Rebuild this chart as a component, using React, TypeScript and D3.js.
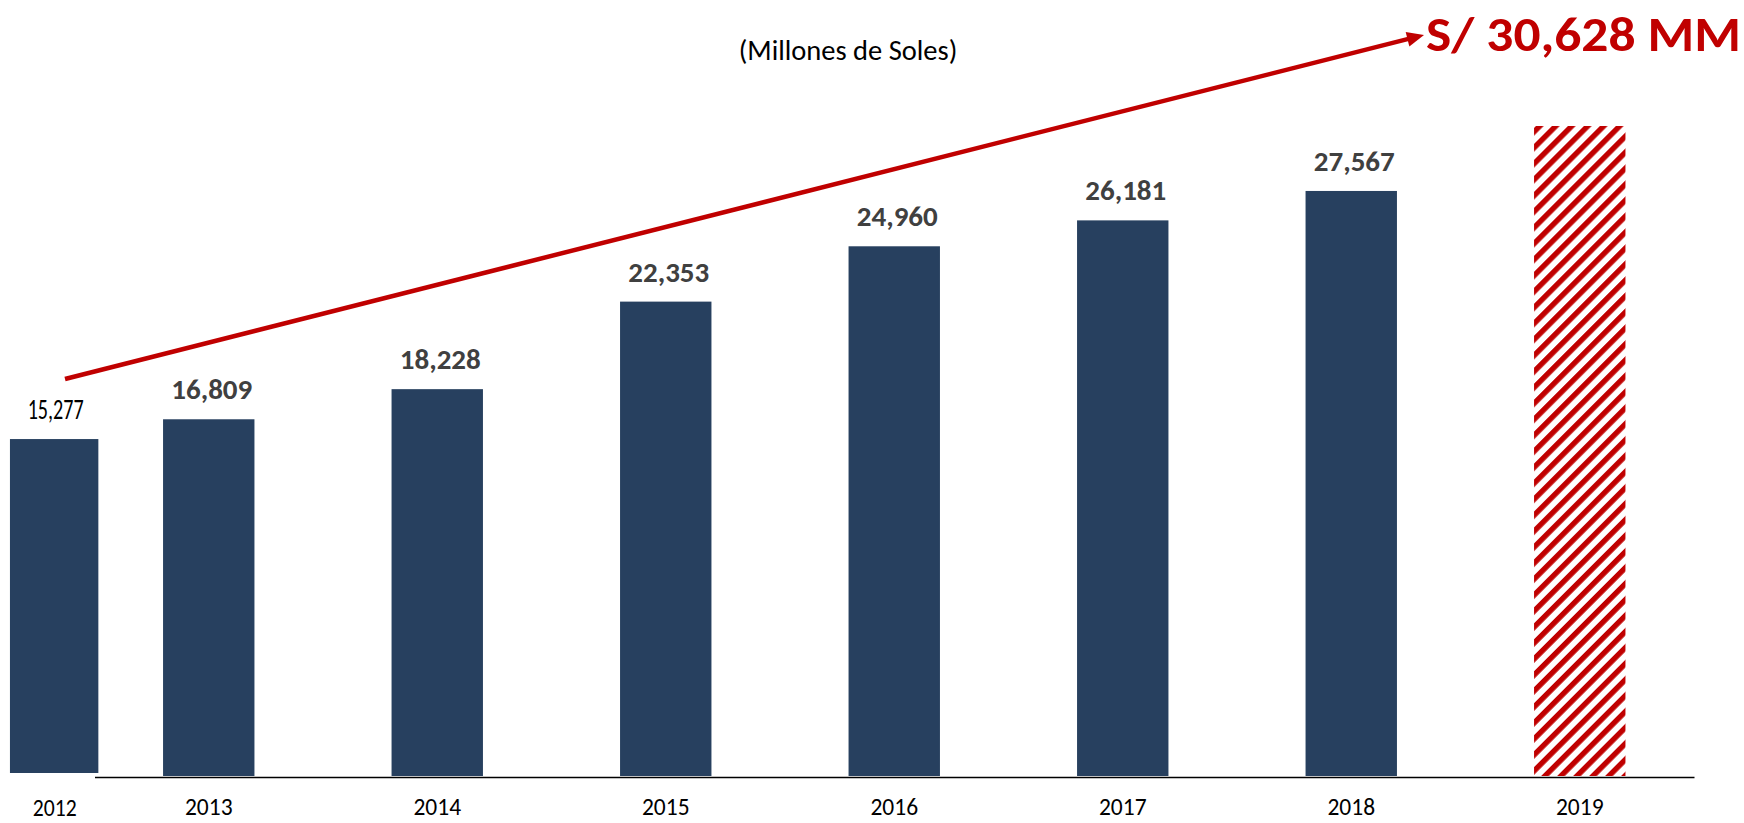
import React, { useRef, useEffect } from 'react';
import * as d3 from 'd3';

// data
const YEARS = ['2012', '2013', '2014', '2015', '2016', '2017', '2018', '2019'];
const VALUES = [15277, 16809, 18228, 22353, 24960, 26181, 27567, 30628];
const PROJECTED = ['2019']; // hatched bar, no value label
const UNIT_LABEL = '(Millones de Soles)';
const CALLOUT = 'S/ 30,628 MM';

const WIDTH = 1744;
const HEIGHT = 823;
const FONT = 'Carlito, Lato, sans-serif';
const NAVY = '#27405f';
const RED = '#c00000';

const App: React.FC = () => {
    const axisRef = useRef<SVGGElement | null>(null);

    const margin = { left: 94.5, right: 50, top: 126, bottom: 47 };
    const baseY = HEIGHT - margin.bottom; // 776

    // 2013..2019 share a regular band grid, 2012 is a pasted inset at the far left
    const mainYears = YEARS.slice(1);
    const x = d3.scaleBand()
        .domain(mainYears)
        .range([margin.left, WIDTH - margin.right])
        .paddingInner(0.6)
        .paddingOuter(0.3);

    const y = d3.scaleLinear()
        .domain([0, d3.max(VALUES) || 0])
        .range([baseY, margin.top]);

    const fmt = d3.format(',');
    const bw = x.bandwidth();

    const leadX = (x(mainYears[0]) || 0) - 0.67 * x.step();
    const leadLift = 3; // the inset bar sits a little above the axis
    const leadScale = 1.03;

    useEffect(() => {
        if (!axisRef.current) return;
        const g = d3.select(axisRef.current);
        g.selectAll('*').remove();
        g.call(d3.axisBottom(x).tickSize(0).tickPadding(22));
        g.select('.domain').attr('stroke', '#000').attr('stroke-width', 1.6);
        g.selectAll('.tick text')
            .attr('font-family', FONT)
            .attr('font-size', 23.5)
            .attr('dy', '0.7em')
            .attr('fill', '#000');
    }, []);

    // arrow annotation from the 2012 label to the callout
    const from: [number, number] = [65, 379];
    const to: [number, number] = [1424, 35];
    const ang = Math.atan2(to[1] - from[1], to[0] - from[0]);
    const headLen = 17;
    const headHalf = 7.5;
    const back: [number, number] = [to[0] - headLen * Math.cos(ang), to[1] - headLen * Math.sin(ang)];
    const head = [
        to,
        [back[0] + headHalf * Math.sin(ang), back[1] - headHalf * Math.cos(ang)],
        [back[0] - headHalf * Math.sin(ang), back[1] + headHalf * Math.cos(ang)],
    ];
    const lineEnd: [number, number] = [to[0] - (headLen - 3) * Math.cos(ang), to[1] - (headLen - 3) * Math.sin(ang)];

    const leadH = (baseY - y(VALUES[0])) * leadScale;

    return (
        <svg width={WIDTH} height={HEIGHT} style={{ position: 'absolute', left: 0, top: 0, background: '#fff' }}>
            <defs>
                <pattern id='hatch' width={11.3} height={11.3} patternUnits='userSpaceOnUse' patternTransform='rotate(45)'>
                    <rect x={0} y={0} width={11.3} height={11.3} fill='#fff' />
                    <rect x={0} y={0} width={5.4} height={11.3} fill={RED} />
                </pattern>
            </defs>

            {/* unit title */}
            <text x={848} y={60} textAnchor='middle' fontFamily={FONT} fontSize={28.5} fill='#000'>{UNIT_LABEL}</text>

            {/* main bars */}
            {mainYears.map((yr, i) => {
                const v = VALUES[i + 1];
                const bx = x(yr) || 0;
                const projected = PROJECTED.includes(yr);
                return (
                    <g key={yr}>
                        <rect x={bx} y={y(v)} width={bw} height={baseY - y(v)}
                            fill={projected ? 'url(#hatch)' : NAVY} />
                        {!projected && (
                            <text x={bx + bw / 2 + 3} y={y(v) - 20} textAnchor='middle'
                                fontFamily={FONT} fontWeight={700} fontSize={29} fill='#404040'>
                                {fmt(v)}
                            </text>
                        )}
                    </g>
                );
            })}

            {/* 2012 inset */}
            <g transform={`translate(0,${-leadLift})`}>
                <rect x={leadX} y={baseY - leadH} width={bw - 3} height={leadH} fill={NAVY} />
                <text x={leadX + bw / 2} y={baseY - leadH - 20}
                    textAnchor='middle' fontFamily={FONT} fontSize={28} fill='#000'
                    textLength={56} lengthAdjust='spacingAndGlyphs'>
                    {fmt(VALUES[0])}
                </text>
            </g>
            <text x={leadX + bw / 2 - 1} y={816} textAnchor='middle' fontFamily={FONT} fontSize={23.5} fill='#000'
                textLength={44} lengthAdjust='spacingAndGlyphs'>
                {YEARS[0]}
            </text>

            {/* axis */}
            <g ref={axisRef} transform={`translate(0,${baseY + 1})`} />

            {/* growth arrow */}
            <line x1={from[0]} y1={from[1]} x2={lineEnd[0]} y2={lineEnd[1]} stroke={RED} strokeWidth={4.5} />
            <polygon points={head.map(p => p.join(',')).join(' ')} fill={RED} />

            <text x={1426} y={51} fontFamily={FONT} fontWeight={700} fontSize={49} fill={RED}
                textLength={315} lengthAdjust='spacingAndGlyphs'>
                {CALLOUT}
            </text>
        </svg>
    );
};

export default App;
